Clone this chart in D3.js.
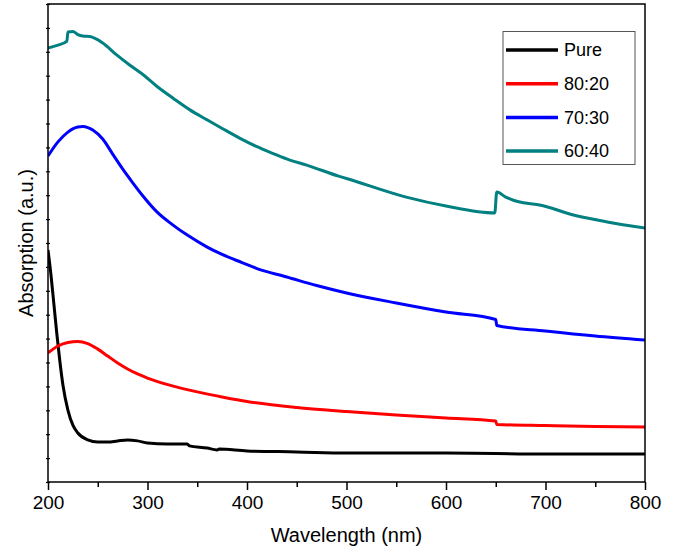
<!DOCTYPE html>
<html>
<head>
<meta charset="utf-8">
<script src="https://cdn.jsdelivr.net/npm/d3@7/dist/d3.min.js"></script>
<style>
  html, body { margin: 0; padding: 0; background: #fff; }
  svg text { font-family: "Liberation Sans", Arial, sans-serif; fill: #000; }
</style>
</head>
<body>
<svg id="chart" width="673" height="548"></svg>
<script>
// ---- data ----
const seriesNames = ["Pure", "80:20", "70:30", "60:40"];
const seriesColors = ["#000000", "#ff0000", "#0000ff", "#008080"];

const pureWl = [200,203,206,209,212,215,220,225,230,240,250,260,270,280,290,300,320,340,342,360,370,372,400,450,500,600,700,800];
const pureAbs = [9.71,8.66,7.41,6.15,5.02,4.06,3.01,2.38,2.05,1.76,1.67,1.67,1.72,1.76,1.72,1.63,1.59,1.59,1.51,1.42,1.34,1.38,1.30,1.26,1.21,1.21,1.17,1.17];

const r8020Wl = [200,210,220,230,240,250,260,270,280,290,300,325,350,375,400,450,500,550,600,650,651,700,750,800];
const r8020Abs = [5.40,5.69,5.84,5.88,5.79,5.56,5.27,4.98,4.73,4.52,4.35,4.02,3.77,3.56,3.37,3.12,2.95,2.80,2.68,2.55,2.41,2.36,2.32,2.30];

const r7030Wl = [200,210,220,230,235,240,245,255,265,275,285,295,310,325,340,360,375,395,410,440,470,500,550,600,650,651,700,750,800];
const r7030Abs = [13.64,14.23,14.64,14.85,14.87,14.83,14.73,14.35,13.72,13.10,12.53,11.99,11.28,10.77,10.33,9.83,9.52,9.18,8.93,8.58,8.22,7.91,7.49,7.11,6.80,6.55,6.32,6.11,5.94];

const r6040Wl = [200,210,219,220,225,230,235,242,255,269,282,296,309,326,343,360,376,393,410,426,443,460,492,500,560,600,649,651,660,667,680,694,728,762,800];
const r6040Abs = [18.16,18.28,18.45,18.83,18.85,18.72,18.66,18.64,18.37,17.87,17.45,17.03,16.57,16.05,15.56,15.15,14.77,14.38,14.03,13.75,13.47,13.26,12.80,12.70,11.92,11.55,11.26,12.13,11.92,11.80,11.67,11.59,11.17,10.88,10.63];

const xTicks = [200,300,400,500,600,700,800];
const xMinorTicks = [250,350,450,550,650,750];
const yTicks = d3.range(0, 21, 1);

const xLabel = "Wavelength (nm)";
const yLabel = "Absorption (a.u.)";

// ---- layout ----
const svg = d3.select("#chart");
const L = 48, R = 645, T = 4, B = 482;

const x = d3.scaleLinear().domain([200, 800]).range([L, R]);
const y = d3.scaleLinear().domain([0, 20]).range([B, T]);

const series = [
  {name: seriesNames[0], color: seriesColors[0], wl: pureWl, v: pureAbs},
  {name: seriesNames[1], color: seriesColors[1], wl: r8020Wl, v: r8020Abs},
  {name: seriesNames[2], color: seriesColors[2], wl: r7030Wl, v: r7030Abs},
  {name: seriesNames[3], color: seriesColors[3], wl: r6040Wl, v: r6040Abs}
];

const line = d3.line()
  .x(d => x(d[0]))
  .y(d => y(d[1]))
  .curve(d3.curveMonotoneX);

svg.append("clipPath").attr("id", "plotclip")
  .append("rect").attr("x", L).attr("y", T).attr("width", R - L).attr("height", B - T);

const g = svg.append("g").attr("clip-path", "url(#plotclip)");
series.forEach(s => {
  g.append("path")
    .datum(s.wl.map((w, i) => [w, s.v[i]]))
    .attr("fill", "none")
    .attr("stroke", s.color)
    .attr("stroke-width", 3)
    .attr("stroke-linejoin", "round")
    .attr("d", line);
});

// frame
svg.append("rect")
  .attr("x", L).attr("y", T).attr("width", R - L).attr("height", B - T)
  .attr("fill", "none").attr("stroke", "#000").attr("stroke-width", 1.5);

// x axis
const xAxis = svg.append("g").attr("transform", `translate(0,${B})`)
  .call(d3.axisBottom(x).tickValues(xTicks).tickSize(8).tickPadding(6).tickFormat(d3.format("d")));
xAxis.select(".domain").remove();
xAxis.selectAll(".tick line").attr("stroke", "#000").attr("stroke-width", 1.5);
xAxis.selectAll(".tick text")
  .attr("font-size", 19)
  .attr("font-family", "Liberation Sans, Arial, sans-serif");

const xMinor = svg.append("g").attr("transform", `translate(0,${B})`)
  .call(d3.axisBottom(x).tickValues(xMinorTicks).tickSize(5).tickFormat(""));
xMinor.select(".domain").remove();
xMinor.selectAll(".tick line").attr("stroke", "#000").attr("stroke-width", 1.5);

// y axis (ticks only, no labels)
const yAxis = svg.append("g").attr("transform", `translate(${L + 2},0)`)
  .call(d3.axisLeft(y).tickValues(yTicks).tickSize(4).tickFormat(""));
yAxis.select(".domain").remove();
yAxis.selectAll(".tick line").attr("stroke", "#000").attr("stroke-width", 1.2);

// axis titles
svg.append("text")
  .attr("x", (L + R) / 2).attr("y", 542)
  .attr("text-anchor", "middle")
  .attr("font-size", 20)
  .text(xLabel);

svg.append("text")
  .attr("transform", `translate(33,${(T + B) / 2}) rotate(-90)`)
  .attr("text-anchor", "middle")
  .attr("font-size", 20)
  .text(yLabel);

// legend
const lg = svg.append("g");
lg.append("rect")
  .attr("x", 503).attr("y", 31.5).attr("width", 132).attr("height", 133)
  .attr("fill", "#fff").attr("stroke", "#555").attr("stroke-width", 1);
series.forEach((s, i) => {
  const yy = 50 + i * 33.7;
  lg.append("line")
    .attr("x1", 506).attr("x2", 558).attr("y1", yy).attr("y2", yy)
    .attr("stroke", s.color).attr("stroke-width", 3.5);
  lg.append("text")
    .attr("x", 564).attr("y", yy).attr("dy", "0.35em")
    .attr("font-size", 18)
    .text(s.name);
});
</script>
</body>
</html>
